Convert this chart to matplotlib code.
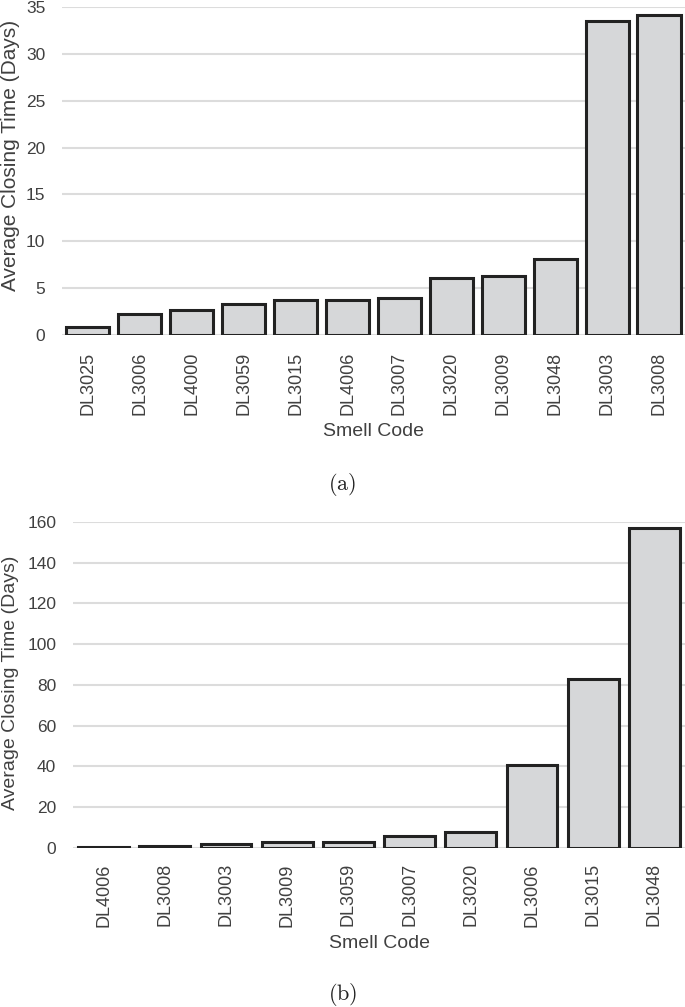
import matplotlib.pyplot as plt

# (a) average closing time per smell code
codes_a = ['DL3025', 'DL3006', 'DL4000', 'DL3059', 'DL3015', 'DL4006',
           'DL3007', 'DL3020', 'DL3009', 'DL3048', 'DL3003', 'DL3008']
days_a = [0.9, 2.2, 2.7, 3.3, 3.7, 3.7, 3.9, 6.05, 6.3, 8.1, 33.5, 34.1]

# (b)
codes_b = ['DL4006', 'DL3008', 'DL3003', 'DL3009', 'DL3059', 'DL3007',
           'DL3020', 'DL3006', 'DL3015', 'DL3048']
days_b = [0.3, 1.0, 2.0, 2.9, 2.8, 5.9, 7.6, 40.5, 83, 157]

plt.rcParams['font.family'] = ['Liberation Sans', 'DejaVu Sans']
plt.rcParams['mathtext.fontset'] = 'cm'

TEXT = '#404040'
FILL = '#d6d7d9'
EDGE = '#222222'
GRID = '#dcdcdc'


def draw(ax, codes, days, yticks, ylabel_size, xpad):
  """bar chart in the style of the reference"""
  x = range(len(codes))
  ax.bar(x, days, width=0.83, color=FILL, edgecolor=EDGE, linewidth=2.2, zorder=3)
  ax.set_xticks(list(x))
  ax.set_xticklabels(codes, rotation=90, fontsize=13, color=TEXT)
  ax.set_yticks(yticks)
  ax.set_yticklabels([str(t) for t in yticks], fontsize=12.5, color=TEXT)
  ax.set_xlim(-0.5, len(codes) - 0.5)
  ax.set_ylim(0, yticks[-1])
  ax.grid(axis='y', color=GRID, linewidth=1.5, zorder=0)
  ax.tick_params(axis='x', length=0, pad=xpad)
  ax.tick_params(axis='y', length=0, pad=12)
  for s in ax.spines.values():
    s.set_visible(False)
  ax.set_xlabel('Smell Code', fontsize=14, color=TEXT, labelpad=6)
  ax.set_ylabel('Average Closing Time (Days)', fontsize=ylabel_size, color=TEXT)


fig = plt.figure(figsize=(6.85, 10.07), dpi=100)

ax1 = fig.add_axes([0.0905, 0.6673, 0.9095, 0.3257])
draw(ax1, codes_a, days_a, [0, 5, 10, 15, 20, 25, 30, 35], 15, 12)
ax1.yaxis.set_label_coords(-0.0674, 0.549)

ax2 = fig.add_axes([0.1066, 0.158, 0.8934, 0.3236])
draw(ax2, codes_b, days_b, [0, 20, 40, 60, 80, 100, 120, 140, 160], 14, 11)
ax2.yaxis.set_label_coords(-0.0885, 0.508)

fig.text(0.5, 1 - 485 / 1007, r'$\mathrm{(a)}$', ha='center', va='center', fontsize=16, color='#222')
fig.text(0.5, 1 - 994 / 1007, r'$\mathrm{(b)}$', ha='center', va='center', fontsize=16, color='#222')

fig.savefig('out.png', dpi=100)
